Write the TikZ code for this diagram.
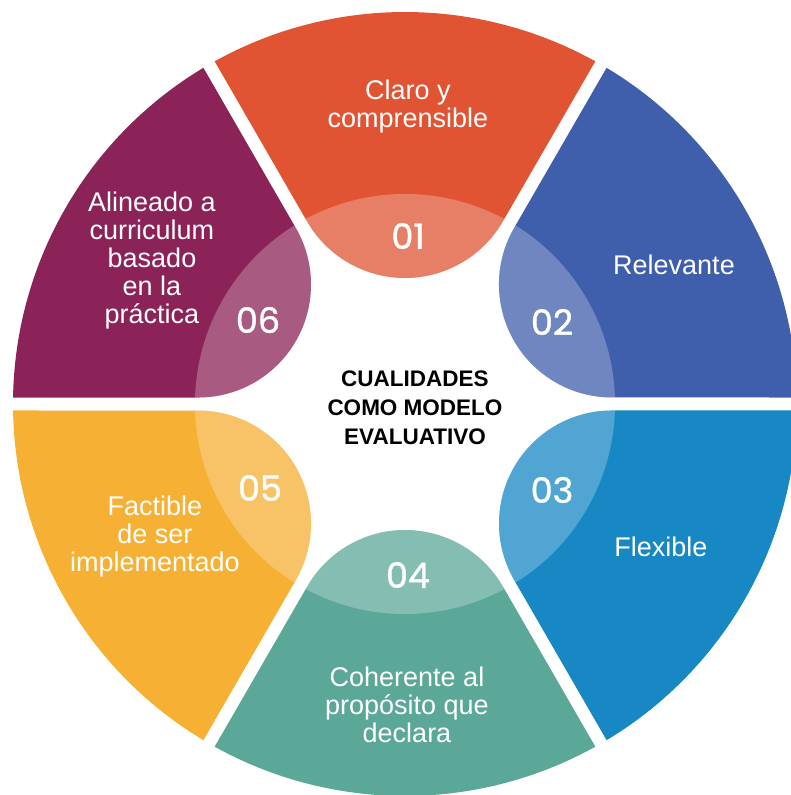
\documentclass[tikz,border=0pt]{standalone}
\usepackage{fontspec}
\setmainfont{Liberation Sans}
\newfontfamily\numfont{Poppins}[FakeBold=1.2]
\usepackage{tikz}
\definecolor{myorange}{RGB}{224,84,51}
\definecolor{myblue}{RGB}{63,94,171}
\definecolor{mysky}{RGB}{23,136,195}
\definecolor{mygreen}{RGB}{91,168,152}
\definecolor{myyellow}{RGB}{246,176,52}
\definecolor{myplum}{RGB}{139,35,88}
\tikzset{
  itemtext/.style={text=white, align=center, inner sep=0pt,
    font=\fontsize{27}{28}\selectfont},
  numtext/.style={text=white, inner sep=0pt,
    font=\numfont\fontsize{35}{35}\selectfont},
  titletext/.style={text=black, align=center, inner sep=0pt,
    font=\bfseries\fontsize{22.5}{29}\selectfont}
}
% one segment, pointing up before rotation
\newcommand{\petalshape}{(-97.9,182.5) arc[start angle=210, end angle=330, radius=113]
  -- (60.95:392) arc[start angle=60.95, end angle=119.05, radius=392] -- cycle}
\newcommand{\drawpetal}[2]{%
  \begin{scope}[rotate=#1]
    \fill[#2] \petalshape;
    \begin{scope}
      \clip \petalshape;
      \fill[white, fill opacity=0.25] (0,0) circle (210);
    \end{scope}
  \end{scope}}

\begin{document}
\begin{tikzpicture}[x=1pt, y=1pt]
  \useasboundingbox (-405,-391) rectangle (385,404);

  % Segments
  \drawpetal{0}{myorange}
  \drawpetal{-60}{myblue}
  \drawpetal{-120}{mysky}
  \drawpetal{180}{mygreen}
  \drawpetal{120}{myyellow}
  \drawpetal{60}{myplum}

  % Numbers
  \node[numtext] (n1) at (3, 168) {01};
  \node[numtext] (n2) at (147, 82) {02};
  \node[numtext] (n3) at (147, -86) {03};
  \node[numtext] (n4) at (3, -171) {04};
  \node[numtext] (n5) at (-145, -84) {05};
  \node[numtext] (n6) at (-147, 84) {06};

  % Qualities
  \node[itemtext] (q1) at (3, 297) {Claro y\\comprensible};
  \node[itemtext] (q2) at (269, 139) {Relevante};
  \node[itemtext] (q3) at (256, -143) {Flexible};
  \node[itemtext] (q4) at (2, -301) {Coherente al\\propósito que\\declara};
  \node[itemtext] (q5) at (-250, -133) {Factible\\de ser\\implementado};
  \node[itemtext] (q6) at (-253, 143) {Alineado a\\curriculum\\basado\\en la\\práctica};

  % Centre
  \node[titletext] (title) at (10, -4) {CUALIDADES\\COMO MODELO\\EVALUATIVO};
\end{tikzpicture}
\end{document}
